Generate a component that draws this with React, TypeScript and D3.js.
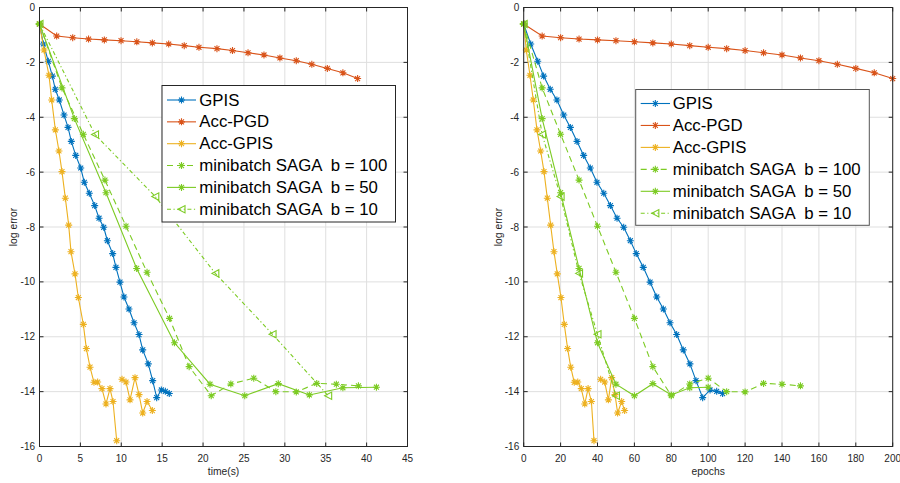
import React from 'react';
import * as d3 from 'd3';

// ---------- data ----------
const accPgdTime = [0, 2.1, 4.06, 6.0, 7.93, 9.97, 11.9, 13.8, 15.8, 17.7, 19.5, 21.7, 23.6, 25.5, 27.45, 29.4, 31.4, 33.3, 35.2, 37.1, 38.9];
const accPgdEpoch = [0, 10, 20, 30, 40, 50, 60, 70, 80, 90, 100, 110, 120, 130, 140, 150, 160, 170, 180, 190, 200];
const accPgdLog = [-0.6, -1.04, -1.1, -1.15, -1.18, -1.21, -1.25, -1.29, -1.33, -1.39, -1.45, -1.5, -1.57, -1.65, -1.73, -1.84, -1.94, -2.07, -2.22, -2.38, -2.59];

const gpisTime = [0, 0.47, 1.08, 1.57, 1.93, 2.42, 3.0, 3.49, 3.89, 4.43, 5.04, 5.48, 6.09, 6.75, 7.28, 7.85, 8.3, 8.95, 9.35, 9.84, 10.33, 10.94, 11.56, 12.17, 12.62, 13.3, 13.84, 14.33, 14.9, 15.39, 15.87];
const gpisEpoch = [0, 3.8, 7.6, 10.8, 14.4, 18.0, 21.7, 25.3, 28.9, 32.5, 36.1, 39.7, 43.4, 47.0, 50.6, 54.2, 57.8, 61.0, 64.8, 68.5, 72.1, 75.7, 79.3, 82.9, 86.5, 90.1, 93.4, 97.0, 101.0, 104.6, 107.8];
const gpisLog = [-0.6, -1.33, -1.96, -2.5, -2.98, -3.37, -3.92, -4.37, -4.88, -5.39, -5.85, -6.37, -6.77, -7.22, -7.68, -8.01, -8.5, -8.97, -9.47, -10.01, -10.55, -10.99, -11.49, -11.92, -12.48, -12.99, -13.6, -14.22, -13.94, -13.99, -14.07];

const accGpisTime = [0, 0.55, 1.16, 1.49, 1.94, 2.38, 2.75, 3.16, 3.57, 3.85, 4.34, 4.75, 5.36, 5.73, 6.18, 6.66, 7.11, 7.64, 8.13, 8.62, 8.99, 9.44, 9.77, 10.09, 10.58, 11.07, 11.68, 12.17, 12.62, 13.15, 13.8];
const accGpisEpoch = [0, 1.4, 3.4, 5.2, 7.2, 9.2, 11.0, 12.8, 14.6, 16.4, 18.2, 20.2, 22.0, 23.8, 25.5, 27.4, 29.3, 31.2, 33.1, 34.9, 36.7, 38.1, 39.9, 41.7, 43.9, 45.9, 47.7, 49.5, 50.9, 53.1, 54.7];
const accGpisLog: (number | null)[] = [-0.6, -1.55, -2.47, -3.37, -4.46, -5.23, -5.98, -6.95, -7.93, -8.9, -9.71, -10.57, -11.55, -12.43, -13.11, -13.66, -13.65, -13.89, -14.45, -13.89, -14.36, -15.79, null, -13.55, -13.65, -14.3, -13.49, -14.11, -14.78, -14.36, -14.69];

const saga100Time = [0, 2.75, 5.36, 8.0, 10.58, 13.15, 15.9, 18.3, 21.0, 23.4, 26.2, 28.9, 31.4, 33.9, 36.3, 39.0];
const saga100Epoch = [0, 10, 20, 30, 40, 50, 60, 70, 80, 90, 100, 110, 120, 130, 140, 150];
const saga100Log = [-0.6, -2.93, -4.62, -6.29, -7.97, -9.65, -11.33, -13.09, -14.15, -13.72, -13.51, -14.0, -14.01, -13.7, -13.73, -13.79];

const saga50Time = [0, 4.26, 8.13, 11.88, 16.5, 20.85, 25.1, 29.2, 33.0, 37.1, 41.2];
const saga50Epoch = [0, 10, 20, 30, 40, 50, 60, 70, 80, 90, 100];
const saga50Log = [-0.6, -4.05, -6.75, -9.51, -12.22, -13.73, -14.15, -13.71, -14.12, -13.86, -13.84];

const saga10Time = [0, 6.79, 14.16, 21.5, 28.5, 35.3];
const saga10Epoch = [0, 10, 20, 30, 40, 50];
const saga10Log = [-0.6, -4.63, -6.89, -9.69, -11.91, -14.15];

const seriesNames = ['GPIS', 'Acc-PGD', 'Acc-GPIS', 'minibatch SAGA  b = 100', 'minibatch SAGA  b = 50', 'minibatch SAGA  b = 10'];

const yTicks = [0, -2, -4, -6, -8, -10, -12, -14, -16];
const timeTicks = [0, 5, 10, 15, 20, 25, 30, 35, 40, 45];
const epochTicks = [0, 20, 40, 60, 80, 100, 120, 140, 160, 180, 200];

// ---------- styles ----------
const GREEN = '#7CCB23';
type Marker = 'star' | 'tri';
interface Series {
  name: string;
  color: string;
  dash?: string;
  marker: Marker;
  time: number[];
  epoch: number[];
  vals: (number | null)[];
}
const series: Series[] = [
  { name: seriesNames[0], color: '#0072BD', marker: 'star', time: gpisTime, epoch: gpisEpoch, vals: gpisLog },
  { name: seriesNames[1], color: '#D95319', marker: 'star', time: accPgdTime, epoch: accPgdEpoch, vals: accPgdLog },
  { name: seriesNames[2], color: '#EDB120', marker: 'star', time: accGpisTime, epoch: accGpisEpoch, vals: accGpisLog },
  { name: seriesNames[3], color: GREEN, dash: '6,4', marker: 'star', time: saga100Time, epoch: saga100Epoch, vals: saga100Log },
  { name: seriesNames[4], color: GREEN, marker: 'star', time: saga50Time, epoch: saga50Epoch, vals: saga50Log },
  { name: seriesNames[5], color: GREEN, dash: '4,2.5,1.2,2.5', marker: 'tri', time: saga10Time, epoch: saga10Epoch, vals: saga10Log },
];

const FONT = '"Liberation Sans", Arial, Helvetica, sans-serif';
const AX = '#262626';
const GRID = '#dfdfdf';
const yTop = 7.5;
const yBot = 446.5;

function starPath(r: number) {
  const d = r * 0.7071;
  return `M${-r},0H${r}M0,${-r}V${r}M${-d},${-d}L${d},${d}M${-d},${d}L${d},${-d}`;
}
function triPath(r: number) {
  return `M${-r},0L${r},${-r * 1.05}L${r},${r * 1.05}Z`;
}
function MarkerShape({ m, x, y, color }: { m: Marker; x: number; y: number; color: string }) {
  return (
    <path
      d={m === 'star' ? starPath(3.5) : triPath(3.5)}
      transform={`translate(${x},${y})`}
      fill="none"
      stroke={color}
      strokeWidth={1.1}
    />
  );
}

interface PanelProps {
  left: number;
  right: number;
  xMax: number;
  xTicks: number[];
  xLabel: string;
  useEpoch: boolean;
  legend: { x0: number; y0: number; x1: number; y1: number; row0: number; rowStep: number; lineX0: number; lineX1: number; textX: number; border: string };
  yLabelX: number;
}

function Panel({ left, right, xMax, xTicks, xLabel, useEpoch, legend, yLabelX }: PanelProps) {
  const x = d3.scaleLinear().domain([0, xMax]).range([left, right]);
  const y = d3.scaleLinear().domain([0, -16]).range([yTop, yBot]);
  const tickLen = 4;
  return (
    <g>
      {/* grid */}
      {xTicks.map((t) => (
        <line key={'gx' + t} x1={x(t)} x2={x(t)} y1={yTop} y2={yBot} stroke={GRID} strokeWidth={1} />
      ))}
      {yTicks.map((t) => (
        <line key={'gy' + t} x1={left} x2={right} y1={y(t)} y2={y(t)} stroke={GRID} strokeWidth={1} />
      ))}
      {/* series */}
      {series.map((s, i) => {
        const xs = useEpoch ? s.epoch : s.time;
        const pts = xs.map((xv, k) => ({ xv, yv: s.vals[k] }));
        const line = d3
          .line<{ xv: number; yv: number | null }>()
          .defined((d) => d.yv !== null)
          .x((d) => x(d.xv))
          .y((d) => y(d.yv as number));
        return (
          <g key={'s' + i}>
            <path d={line(pts) || ''} fill="none" stroke={s.color} strokeWidth={1.1} strokeDasharray={s.dash} />
            {pts
              .filter((p) => p.yv !== null)
              .map((p, k) => (
                <MarkerShape key={k} m={s.marker} x={x(p.xv)} y={y(p.yv as number)} color={s.color} />
              ))}
          </g>
        );
      })}
      {/* axes box and ticks */}
      <rect x={left} y={yTop} width={right - left} height={yBot - yTop} fill="none" stroke={AX} strokeWidth={1} />
      {xTicks.map((t) => (
        <g key={'tx' + t}>
          <line x1={x(t)} x2={x(t)} y1={yBot} y2={yBot - tickLen} stroke={AX} />
          <line x1={x(t)} x2={x(t)} y1={yTop} y2={yTop + tickLen} stroke={AX} />
          <text x={x(t)} y={458} textAnchor="middle" dominantBaseline="central" fontSize={10} fill={AX} fontFamily={FONT}>
            {t}
          </text>
        </g>
      ))}
      {yTicks.map((t) => (
        <g key={'ty' + t}>
          <line x1={left} x2={left + tickLen} y1={y(t)} y2={y(t)} stroke={AX} />
          <line x1={right} x2={right - tickLen} y1={y(t)} y2={y(t)} stroke={AX} />
          <text x={left - 4.5} y={y(t)} textAnchor="end" dominantBaseline="central" fontSize={10} fill={AX} fontFamily={FONT}>
            {t}
          </text>
        </g>
      ))}
      <text x={(left + right) / 2} y={471} textAnchor="middle" dominantBaseline="central" fontSize={10.3} fill={AX} fontFamily={FONT}>
        {xLabel}
      </text>
      <text
        transform={`translate(${yLabelX},${(yTop + yBot) / 2}) rotate(-90)`}
        textAnchor="middle"
        dominantBaseline="central"
        fontSize={10.3}
        fill={AX}
        fontFamily={FONT}
      >
        log error
      </text>
      {/* legend */}
      <rect
        x={legend.x0}
        y={legend.y0}
        width={legend.x1 - legend.x0}
        height={legend.y1 - legend.y0}
        fill="#ffffff"
        stroke={legend.border}
        strokeWidth={1}
      />
      {series.map((s, i) => {
        const cy = legend.row0 + i * legend.rowStep;
        const mx = (legend.lineX0 + legend.lineX1) / 2;
        return (
          <g key={'lg' + i}>
            <line x1={legend.lineX0} x2={legend.lineX1} y1={cy} y2={cy} stroke={s.color} strokeWidth={1.1} strokeDasharray={s.dash} />
            <MarkerShape m={s.marker} x={mx} y={cy} color={s.color} />
            <text
              x={legend.textX}
              y={cy}
              dominantBaseline="central"
              fontSize={16.8}
              fill="#000"
              fontFamily={FONT}
              xmlSpace="preserve"
              style={{ whiteSpace: 'pre' }}
            >
              {s.name}
            </text>
          </g>
        );
      })}
    </g>
  );
}

export default function App() {
  return (
    <svg
      width={900}
      height={483}
      viewBox="0 0 900 483"
      style={{ position: 'absolute', left: 0, top: 0, background: '#ffffff' }}
    >
      <rect x={0} y={0} width={900} height={483} fill="#ffffff" />
      <Panel
        left={39.5}
        right={407.5}
        xMax={45}
        xTicks={timeTicks}
        xLabel="time(s)"
        useEpoch={false}
        yLabelX={13.5}
        legend={{ x0: 162, y0: 85.5, x1: 395.5, y1: 222, row0: 100, rowStep: 21.85, lineX0: 167, lineX1: 196, textX: 199.3, border: '#262626' }}
      />
      <Panel
        left={523.7}
        right={892.7}
        xMax={200}
        xTicks={epochTicks}
        xLabel="epochs"
        useEpoch={true}
        yLabelX={498}
        legend={{ x0: 635.7, y0: 89.5, x1: 869.3, y1: 225.3, row0: 103.5, rowStep: 21.95, lineX0: 640.7, lineX1: 670, textX: 672.7, border: '#555555' }}
      />
    </svg>
  );
}
